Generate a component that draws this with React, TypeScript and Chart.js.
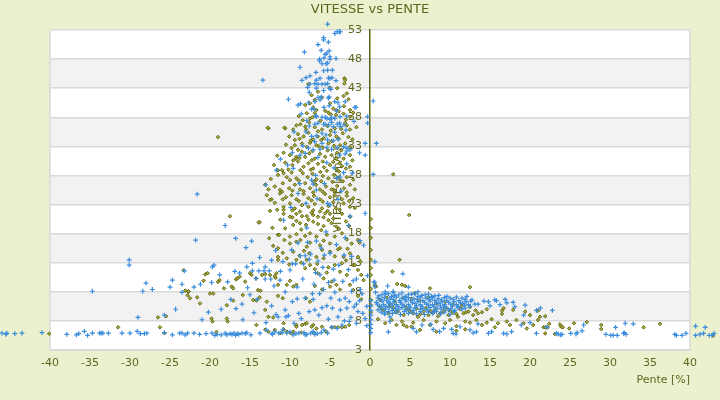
import React, { useEffect, useRef } from "react";
import { Chart, registerables } from "chart.js";
Chart.register(...registerables);

const TITLE = "VITESSE vs PENTE";
const X_TITLE = "Pente [%]";
const Y_TITLE = "VITESSE [km/h]";
const X_MIN = -40;
const X_MAX = 40;
const X_STEP = 5;
const Y_MIN = -2;
const Y_MAX = 53;
const Y_STEP = 5;
// tick labels as printed on the y axis, bottom to top
const yTickLabels = ["3", "8", "8", "13", "18", "23", "28", "33", "38", "43", "48", "53"];

type P = [number, number];

// ---------- blue series ----------
const blueFarLeft: P[] = [[-46, 0.9], [-45.5, 0.7], [-45.4, 0.9], [-44.4, 0.8], [-43.5, 0.9], [-41, 1.0]];
const blueLowRow: P[] = [
  [-37.9, 0.7], [-36.7, 0.6], [-36.4, 0.8], [-35.7, 1.2], [-35.3, 0.5], [-34.7, 0.9], [-33.8, 0.9], [-33.6, 0.9], [-33.4, 0.9], [-32.7, 0.9],
  [-31, 0.9], [-30, 0.9], [-29.1, 1.2], [-28.7, 0.8], [-28.2, 0.8], [-27.9, 0.9], [-25.7, 1.0], [-24.7, 0.6], [-23.8, 0.9], [-23.5, 0.9],
  [-23.1, 0.6], [-22.8, 0.9], [-22, 0.9], [-20.5, 0.8], [-19.75, 0.9], [-19.1, 0.7], [-18.1, 0.9], [-17.9, 0.6], [-17.5, 0.8], [-17.25, 0.7],
  [-17, 0.9], [-16.6, 0.8], [-16.4, 0.7], [-16, 0.9], [-15.6, 0.8], [-15.4, 1.0], [-13.75, 0.9], [-12.9, 1.4], [-12.25, 0.8], [-11.4, 0.9],
  [-11, 1.0], [-10.9, 1.5], [-10.4, 0.9], [-10, 1.1], [-9.25, 0.8], [-8.9, 0.9], [-8.25, 1.0], [-7.9, 0.7], [-7.4, 0.9], [-7.1, 1.2],
  [-6.6, 0.8], [-6.1, 1.0], [-5.75, 1.4], [-4.75, 1.9], [-4.1, 1.7], [-3.5, 2.3], [-2.6, 2.9],
  [-12.2, 0.7], [-9.6, 0.6], [-8.1, 0.6], [-6.9, 0.7], [-5.3, 0.9], [-11.9, 1.1], [-14.9, 0.6], [-16.8, 0.5], [-18.6, 0.6], [-19.4, 0.5],
  [-21.3, 0.7],
];
const blueLeftScatter: P[] = [
  [-34.7, 8.1], [-30.1, 13.5], [-30.1, 12.6], [-29, 3.6], [-28.4, 8.1], [-28, 9.5], [-27.2, 8.4], [-25.7, 4.0], [-25, 8.8], [-24.7, 10],
  [-23.5, 9.3], [-23.5, 7.9], [-23.2, 11.6], [-22, 8.8], [-21.6, 24.8], [-21.8, 16.9], [-21.2, 9.3], [-21, 3.2], [-19.8, 9.6], [-19.7, 12.3],
  [-19.5, 12.6], [-18.8, 10.9], [-18.1, 19.4], [-17.8, 9.7], [-17.4, 6.7], [-16.9, 11.5], [-16.8, 17.2], [-16.75, 5.1], [-16.3, 11.2], [-15.9, 3.2],
  [-15.5, 15.6], [-15.4, 12.3], [-15.3, 8.7], [-15, 7.5], [-14.8, 16.7], [-14.7, 12.9], [-14.7, 11.6], [-14.25, 10.3], [-14.1, 6.7], [-13.9, 11.6],
  [-13.4, 44.4], [-13.25, 11.6], [-13.1, 12.3], [-13.1, 10.2], [-13, 26.4], [-12.6, 11.6], [-12.4, 10.2], [-11.75, 4.1], [-11.7, 28.9], [-11.5, 3.7],
  [-11.25, 10], [-11.2, 30.8], [-11.2, 11.5], [-10.9, 13.2], [-10.8, 20.3], [-10.5, 3.7], [-10.3, 29.8], [-10.2, 41.1], [-10.2, 3.9], [-10, 11.75],
  [-9.7, 12.8], [-9.7, 6.3], [-9.7, 31.9], [-9.6, 29.2], [-9.5, 35.5], [-9.3, 12.8], [-9.1, 8.8], [-9, 16.4], [-9, 24.9], [-8.9, 4.3],
  [-8.75, 31.5], [-8.7, 14.2], [-8.3, 12.8], [-8.1, 6.9], [-8.1, 14.2], [-8.1, 31.8], [-8, 23.2], [-8, 35.5], [-7.8, 16.5], [-7.6, 13.6],
  [-7.4, 14.5], [-7.3, 27.2], [-7.2, 7.7], [-7.1, 6.7], [-7.1, 26.5], [-6.9, 4.9], [-6.7, 16.7], [-6.7, 25.5], [-6.5, 13.3], [-6.3, 7.7],
  [-6.25, 10.9], [-6, 5.3], [-5.8, 8.4], [-5.7, 14.3], [-5.4, 5.6], [-5.4, 30.2], [-5.3, 23.2], [-5.2, 9.6], [-5, 14.6], [-5, 22.9],
  [-4.7, 5.2], [-4.6, 11.9], [-4.5, 10], [-4.4, 7.9], [-4.2, 27.5], [-4, 3.7], [-3.8, 6.6], [-3.75, 27.7], [-3.7, 4.9], [-3.4, 9.8],
  [-3.25, 14.3], [-3.1, 6.9], [-2.9, 5.2], [-2.9, 30], [-2.6, 6.3], [-2.5, 21], [-2.3, 8.1], [-2.1, 9.9], [-2, 5.4], [-1.7, 2.6],
  [-1.7, 5.9], [-1.5, 4.6], [-1.3, 6.5], [-1.3, 31.9], [-1.25, 16.8], [-1.2, 8.4], [-0.8, 16], [-0.6, 3.4], [-0.6, 21.5], [-0.6, 31.5],
  [-0.6, 33.5], [-0.3, 10.8],
  [-11.8, 15.1], [-12.3, 13.4], [-13.8, 13.9], [-12.0, 9.0], [-10.6, 8.0], [-9.1, 6.8], [-8.4, 10.2], [-7.0, 9.3], [-6.8, 11.3], [-5.9, 12.2],
  [-4.9, 6.9], [-3.9, 12.6], [-2.7, 11.8], [-1.7, 10.2], [-1.0, 7.7], [-0.4, 5.5], [-0.9, 4.3], [-0.4, 2.2], [-2.4, 3.6], [-3.2, 3.0],
  [-5.2, 3.3], [-6.4, 4.0], [-7.6, 4.6], [-8.6, 3.4], [-9.5, 2.6], [-10.6, 4.9], [-12.3, 5.6], [-13.0, 2.7], [-14.5, 4.4], [-16.0, 5.9],
  [-18.6, 5.0], [-20.2, 4.5], [-24.3, 5.0],
];
const blueSpikeMid: P[] = [
  [-7.3, 34.7], [-6.7, 34.8], [-6, 35.25], [-5.5, 34.95], [-6.9, 33.8], [-6, 33.5], [-5.3, 34.1], [-4.6, 34], [-4, 34.2], [-7.7, 32.7],
  [-7.1, 32.4], [-6.25, 32.5], [-5.4, 32.8], [-4.8, 32.5], [-4.1, 32.8], [-3.3, 32.9], [-2.9, 32.7], [-2.5, 32.4], [-3.8, 31.5], [-3.1, 31.7],
  [-2.9, 32.2], [-8.6, 38.6], [-7.0, 39.4], [-4.2, 39.1], [-3.1, 40.7], [-7.9, 37.4], [-6.9, 36.8], [-4.4, 35.4], [-3.0, 35.8], [-2.0, 37.3],
  [-8.4, 33.1], [-6.5, 31.1], [-4.5, 29.3], [-3.3, 28.5], [-6.8, 28.0], [-8.8, 26.6], [-5.7, 26.6], [-3.6, 25.3], [-2.2, 28.4], [-9.9, 22.5],
  [-6.6, 24.0], [-4.0, 23.9], [-2.7, 19.4], [-7.9, 19.0], [-5.5, 18.3], [-3.1, 17.3], [-9.8, 15.2], [-6.1, 15.5], [-4.2, 16.1], [-2.3, 14.1],
];
const blueSpikeTop: P[] = [
  [-5.3, 54.0], [-4.4, 52.4], [-4.1, 52.7], [-3.85, 52.7], [-3.7, 52.7], [-5.8, 51.7], [-5.8, 51.3], [-6.5, 50.5], [-5.2, 50.9], [-8.2, 49.2],
  [-6.1, 49.5], [-5.6, 48.8], [-5.4, 49.0], [-5.1, 49.4], [-6.3, 48.0], [-6.3, 47.7], [-5.75, 48.2], [-5, 48.4], [-5, 48.0], [-4.25, 48.1],
  [-6, 47.2], [-5.5, 47.2], [-5.3, 47.3], [-6.75, 45.7], [-5.8, 46], [-5.3, 46.1], [-4.7, 46.1], [-8.75, 46.6], [-8.5, 44.35], [-8, 44.8],
  [-7.5, 45.1], [-6.7, 44.4], [-6.25, 44.7], [-6.9, 43.8], [-6.5, 43.7], [-5.2, 44.75], [-5, 44.7], [-4.75, 44.8], [-6, 43.7], [-5.6, 43.7],
  [-5.3, 43.8], [-4.25, 44.3], [-7.5, 43.7], [-7.8, 43.15], [-5.1, 43], [-4.9, 42.8], [-6.7, 43], [-5.8, 42.6], [-7.6, 42.3], [-9, 40.1],
  [-8.7, 40.3], [-6.5, 41.4], [-5.2, 41.3], [-6.9, 40.7], [-6.25, 41], [-7.7, 40.5], [-4.4, 40.7], [-5.75, 39.7], [-5.1, 40], [-3.8, 39.8],
  [-7.3, 39.4], [-0.3, 38.1], [-1.9, 39.7], [-2.9, 38.2], [-6.7, 38.1], [-6.0, 38.0], [-5.4, 37.8], [-4.8, 38.0], [-6.5, 37.0], [-5.8, 36.8],
  [-5.2, 36.7], [-4.6, 36.4], [-3.8, 37], [-3.25, 36.7], [-7.6, 36.5], [-6.1, 41.5], [-5.1, 41.5], [-4, 40.5], [-1.75, 39.7], [-0.3, 37.0],
  [-6.75, 38.3], [-5.6, 38.0], [-5, 37.65], [-4.4, 37.8], [-3.75, 38.1], [-5.6, 36.8], [-4.8, 37.1], [-4.1, 36.8], [-3.7, 36.4],
];
const blueNearAxis: P[] = [
  [0.4, 40.8], [0.8, 33.5], [0.4, 28.2], [0.6, 13.2], [4.1, 11.1], [0.5, 9.7], [2.2, 9.0], [4.8, 8.8], [0.6, 9.6], [0.6, 8.9],
  [1.9, 8.0], [2.9, 8.0], [0.1, 6.5], [0.1, 5.6], [0.1, 4.8], [0.1, 4.0], [0.1, 3.2], [0.1, 2.4], [0.1, 1.7], [0.1, 1.0],
];
const blueBlob: P[] = [
  [1.5, 7.5], [2.3, 7.7], [3.1, 7.4], [4.0, 7.8], [4.8, 7.5], [5.6, 7.7], [6.5, 7.4], [7.3, 7.6], [8.1, 7.3],
  [1.0, 6.9], [1.8, 7.0], [2.5, 6.8], [3.3, 7.1], [4.0, 6.9], [4.8, 7.0], [5.5, 6.8], [6.3, 7.1], [7.0, 6.9], [7.8, 7.0], [8.5, 6.8], [9.3, 7.0], [10.0, 6.9], [10.8, 7.1], [11.5, 6.9],
  [0.8, 6.2], [1.5, 6.4], [2.3, 6.1], [3.0, 6.3], [3.8, 6.2], [4.5, 6.4], [5.3, 6.1], [6.0, 6.3], [6.8, 6.2], [7.5, 6.4], [8.3, 6.1], [9.0, 6.3], [9.8, 6.2], [10.5, 6.3], [11.3, 6.1], [12.0, 6.3],
  [1.2, 5.6], [2.0, 5.5], [2.8, 5.7], [3.5, 5.5], [4.3, 5.6], [5.0, 5.4], [5.8, 5.6], [6.5, 5.5], [7.3, 5.7], [8.0, 5.5], [8.8, 5.6], [9.5, 5.4], [10.3, 5.6], [11.0, 5.5], [11.8, 5.7], [12.5, 5.5],
  [1.0, 4.9], [1.9, 5.0], [2.8, 4.8], [3.6, 5.0], [4.5, 4.9], [5.4, 4.8], [6.3, 5.0], [7.1, 4.9], [8.0, 4.8], [8.9, 5.0], [9.8, 4.9], [10.6, 4.8], [11.5, 5.0],
  [1.8, 4.2], [2.8, 4.3], [3.8, 4.1], [4.8, 4.3], [5.8, 4.2], [6.8, 4.1], [7.8, 4.3], [8.8, 4.2], [10.0, 4.1],
  [12.75, 6.6], [13.5, 5.9], [14.25, 6.4], [15, 5.6], [15.6, 6.6], [16.25, 5.8], [17.1, 6.1], [18.1, 5.4], [14.8, 6.3], [15.8, 6.5],
  [16.9, 6.7], [17.9, 6.2], [19.4, 5.7], [20.8, 4.8], [12.1, 7.2], [19.2, 4.0],
  [1.1, 7.3], [1.9, 7.6], [2.7, 7.2], [3.6, 7.5], [4.4, 7.2], [5.2, 7.6], [6.0, 7.2], [6.9, 7.5], [7.7, 7.2], [8.6, 7.4], [9.6, 7.2],
  [1.4, 6.6], [2.1, 6.5], [2.9, 6.7], [3.7, 6.5], [4.4, 6.7], [5.1, 6.5], [5.9, 6.7], [6.6, 6.5], [7.4, 6.7], [8.1, 6.5], [8.9, 6.6],
  [9.6, 6.5], [10.4, 6.7], [11.1, 6.5], [11.9, 6.7], [12.6, 6.4], [0.9, 5.9], [1.7, 5.8], [2.5, 6.0], [3.3, 5.8], [4.0, 5.9], [4.8, 5.8],
  [5.6, 6.0], [6.3, 5.8], [7.1, 5.9], [7.8, 5.8], [8.6, 6.0], [9.3, 5.8], [10.1, 5.9], [10.8, 5.8], [11.6, 6.0], [12.3, 5.8], [13.1, 5.9],
  [1.5, 5.2], [2.4, 5.3], [3.2, 5.1], [4.0, 5.3], [4.9, 5.2], [5.7, 5.3], [6.6, 5.1], [7.5, 5.3], [8.4, 5.2], [9.2, 5.3], [10.1, 5.1],
  [11.0, 5.3], [11.9, 5.2], [1.4, 4.5], [2.3, 4.6], [3.3, 4.5], [4.3, 4.6], [5.3, 4.5], [6.3, 4.6], [7.3, 4.5], [8.3, 4.6], [9.3, 4.5],
  [10.5, 4.6], [0.7, 7.9], [2.9, 8.0], [6.0, 8.0],
];
const blueRightLow: P[] = [
  [1.9, 4.3], [2.5, 3.7], [2.5, 2.9], [2.3, 1.1], [5.4, 1.7], [5.8, 1.1], [6.5, 2.3], [7.6, 2.4], [7.9, 1.55], [8.7, 1.15],
  [9.2, 1.7], [10.2, 1.55], [10.4, 0.85], [10.75, 0.75], [11.25, 2.0], [12.5, 1.45], [13.5, 2.5], [12.9, 0.95], [13.3, 1.1], [14.8, 0.85],
  [15.2, 1.15], [16.7, 0.85], [17.1, 0.75], [17.7, 1.15], [18.9, 2.3], [20, 2.7], [20.8, 0.85],
];
const blueFarRight: P[] = [
  [21.3, 5.2], [22.8, 4.8], [22.1, 1.9], [23.3, 0.85], [23.5, 0.75], [23.8, 0.6], [24, 0.7], [25.1, 0.85], [25.75, 0.75], [25.9, 1.0],
  [26.5, 1.3], [26.7, 2.3], [29.5, 0.7], [30.1, 0.5], [30.4, 0.5], [30.9, 0.5], [30.7, 1.9], [31.7, 0.85], [31.8, 0.95], [32, 0.7],
  [31.9, 2.6], [32.9, 2.5], [38.1, 0.7], [38.3, 0.5], [39, 0.5], [39.5, 0.85], [40.7, 2.1], [40.7, 0.5], [41.25, 0.7], [41.7, 0.85],
  [41.9, 1.9], [42.4, 0.5], [42.75, 0.5], [43, 0.85],
];

// ---------- olive series ----------
const oliveSpikeTop: P[] = [
  [-7.3, 41.8], [-6.9, 41.0], [-6.5, 42.4], [-4.1, 41.25], [-3.3, 41.65], [-2.9, 42.1], [-2.7, 41.1], [-3.2, 44.7], [-3.1, 44.4], [-3.2, 43.8],
  [-4.1, 43.0], [-7.7, 43.7], [-5, 43.1], [-6, 41.4], [-8.1, 40.1], [-7.5, 40.4], [-7.1, 39.7], [-6.7, 39.25], [-5, 40.4], [-4.6, 39.5],
  [-4.2, 39.25], [-3.25, 39.9], [-2.5, 39.25], [-12.7, 36.1], [-7.9, 38.7], [-7.5, 37.8], [-6.9, 38.7], [-5.2, 38.8], [-4.25, 38.4], [-3.3, 38.6],
  [-2.5, 38.1], [-2.1, 38.8], [-10.6, 36.1], [-9.6, 35.9], [-8.7, 36.8], [-8.1, 36.4], [-7.6, 37.1], [-6.9, 36.3], [-6, 35.9], [-5.3, 36.5],
  [-4.4, 36.1], [-3.1, 37.0], [-2.5, 35.9], [-1.7, 36.3], [-12.8, 36.2], [-19, 34.6], [-10.7, 36.2],
  [-8.9, 38.2], [-8.4, 37.5], [-7.2, 38.0], [-6.2, 37.4], [-5.6, 39.1], [-4.9, 38.5], [-3.9, 39.0], [-3.0, 37.6], [-9.2, 36.6], [-8.0, 35.9],
  [-6.5, 35.6], [-4.9, 35.7], [-3.6, 36.0], [-2.9, 36.6],
];
const oliveSpikeMid: P[] = [
  [-9, 35.1], [-8.3, 34.7], [-7.7, 35.35], [-7.1, 34.2], [-6.5, 34.7], [-5.8, 34.4], [-5, 34.95], [-4.2, 34.7], [-3.4, 35.25], [-2.7, 34.6],
  [-9.4, 34.1], [-9.4, 33.2], [-8.5, 33.5], [-7.9, 32.9], [-7.5, 33.6], [-6.7, 33.2], [-5.9, 32.8], [-5.2, 33.5], [-4.5, 33.1], [-3.75, 33.2],
  [-3.1, 33.5], [-2.5, 32.9], [-9.8, 32.7], [-10.8, 31.9], [-10, 31.5], [-9.2, 31.2], [-8.5, 32.1], [-8.1, 31.2], [-7.6, 31.8], [-6.9, 30.9],
  [-6.25, 31.7], [-5.6, 31.2], [-4.8, 31.5], [-4.2, 30.9], [-3.3, 30.9], [-2.5, 31.5], [-9.25, 30.9], [-10.6, 30.2], [-9.7, 29.8], [-9, 30.4],
  [-8.3, 29.5], [-7.7, 30.1], [-7.1, 29.2], [-6.5, 30], [-5.75, 29.4], [-5, 29.8], [-4.2, 29.1], [-3.5, 29.6], [-2.5, 29.5], [-11, 28.9],
  [-11.5, 28.1], [-10.4, 27.7], [-9.8, 28.5], [-9.2, 27.5], [-8.4, 28.4], [-7.8, 27.7], [-7.2, 28.3], [-6.7, 27.3], [-5.9, 27.9], [-5.2, 27.5],
  [-4.5, 28.1], [-3.8, 27.3], [-2.9, 27.7], [-10, 27.2], [-11.9, 26.1], [-10.9, 26.65], [-10.1, 25.8], [-9.4, 26.4], [-8.75, 25.6], [-8.1, 26.65],
  [-7.5, 25.8], [-6.75, 26.4], [-6.25, 25.6], [-5.5, 26.1], [-4.8, 25.6], [-4.1, 26.2], [-3.25, 25.8], [-2.5, 26.4], [-11.25, 25.5], [-12.3, 23.9],
  [-11.25, 24.9], [-10.5, 24.25], [-9.8, 24.6], [-9.2, 23.9], [-8.3, 24.8], [-7.7, 24.1], [-7, 24.5], [-6.25, 23.9], [-5.6, 24.8], [-5, 24.25],
  [-4.4, 24.6], [-3.5, 23.9], [-2.9, 24.5], [-2.1, 24.1], [-11.9, 23.3], [-10.8, 22.6], [-10, 23.2], [-9.4, 22.35], [-8.5, 22.9], [-7.7, 22.6],
  [-6.9, 23.1], [-6, 22.35], [-5.2, 22.75], [-4.25, 22.35], [-3.3, 23.2], [-2.5, 22.6], [-11.5, 28.9], [-13.1, 26.4], [-12.5, 23.8],
  [-10.1, 34.7], [-8.8, 34.3], [-7.4, 34.0], [-6.1, 34.1], [-4.8, 33.9], [-3.9, 34.3], [-2.2, 34.2], [-10.5, 33.3], [-9.0, 32.4], [-7.2, 32.2],
  [-6.4, 33.0], [-5.3, 32.3], [-4.1, 31.9], [-3.6, 32.3], [-11.6, 31.4], [-9.6, 30.6], [-8.8, 31.0], [-7.3, 30.6], [-5.9, 30.4], [-4.6, 30.3],
  [-3.8, 30.1], [-2.2, 30.6], [-12.0, 29.8], [-10.2, 29.0], [-8.7, 28.9], [-7.4, 29.0], [-6.2, 28.6], [-5.4, 28.8], [-3.9, 28.7], [-3.0, 29.2],
  [-12.4, 27.4], [-10.8, 28.4], [-8.9, 27.1], [-7.0, 26.9], [-6.1, 27.0], [-4.7, 26.9], [-3.4, 27.0], [-2.1, 27.3], [-12.7, 25.6], [-11.0, 25.2],
  [-9.7, 25.4], [-8.3, 25.3], [-7.1, 25.1], [-5.9, 25.2], [-4.4, 25.4], [-2.9, 25.1], [-1.9, 25.6], [-12.9, 24.6], [-10.9, 23.9], [-8.9, 23.6],
  [-7.3, 23.7], [-5.9, 23.5], [-4.6, 23.4], [-2.6, 23.6], [-11.6, 22.1], [-9.7, 22.0], [-7.1, 22.0], [-5.3, 21.9], [-3.8, 22.1], [-1.9, 22.4],
];
const oliveSpikeLow: P[] = [
  [-10.8, 21.4], [-9.7, 20.8], [-8.75, 21.8], [-7.9, 21], [-7.3, 21.6], [-6.5, 20.9], [-5.6, 21.5], [-4.6, 20.6], [-3.5, 21.4], [-2.5, 20.9],
  [-13.9, 19.9], [-12.5, 21.9], [-10.8, 22.1], [-10, 20.9], [-9.2, 21.4], [-8.5, 21], [-7.1, 21.2], [-6.25, 21.8], [-5.8, 20.8], [-5, 21.4],
  [-9.6, 19.5], [-8.75, 19.8], [-8, 19.5], [-7.1, 20.05], [-6.5, 19.65], [-5.8, 19.3], [-4.8, 19.8], [-4.2, 19.2], [-11.5, 17.8], [-10, 17.5],
  [-9.2, 17.9], [-8.1, 17.6], [-7.5, 18.05], [-6.7, 17.5], [-5.4, 17.8], [-4.4, 17.5], [-3.5, 18.05], [-11.5, 15.5], [-10, 16.3], [-9.2, 16.6],
  [-7.9, 15.75], [-7.5, 16.45], [-6.25, 16], [-5, 16.3], [-3.75, 15.5], [-2.3, 16.3], [-1.5, 16.9], [-1.3, 16.45], [-9.6, 14.9], [-8.25, 15.05],
  [-7.6, 14.6], [-6.7, 14], [-5, 14.9], [-4, 15.3], [-3.3, 14], [-2.5, 14.6], [-10.4, 13.75], [-9.2, 13.5], [-7.9, 13.5], [-5.8, 13.75],
  [-4.4, 12.6], [-3.5, 12.9], [-2.1, 12.6], [-1.5, 14], [-13.8, 20], [-17.5, 21.0], [-11.35, 17.8], [-11.5, 14.0], [-11.8, 10.4],
  [-11.2, 20.4], [-9.2, 20.2], [-7.7, 20.4], [-5.2, 20.3], [-3.0, 20.1], [-12.2, 19.0], [-10.6, 18.9], [-8.6, 18.7], [-6.1, 18.6], [-3.9, 18.8],
  [-2.6, 19.3], [-12.6, 17.2], [-10.7, 16.9], [-8.7, 16.9], [-5.8, 16.8], [-2.9, 17.0], [-12.1, 15.9], [-10.9, 14.7], [-8.8, 14.2], [-6.0, 15.2],
  [-4.4, 14.1], [-2.8, 15.4], [-10.1, 12.7], [-8.6, 13.0], [-6.6, 12.8], [-5.2, 12.2], [-3.0, 13.4], [-1.2, 13.2],
];
const oliveLeft: P[] = [
  [-20.6, 11.0], [-20.3, 11.2], [-20.8, 9.9], [-23.1, 8.2], [-22.7, 8.0], [-22.5, 6.9], [-21.6, 7.05], [-21.25, 6.0], [-20, 7.7], [-19.6, 7.7],
  [-18.8, 10], [-19, 9.7], [-18.25, 8.6], [-17.9, 5.7], [-17.3, 8.9], [-17.1, 8.6], [-16.75, 10.15], [-16.6, 10.3], [-16.3, 10.6], [-17.1, 6.5],
  [-15.9, 7.45], [-15.6, 9.75], [-15, 11.2], [-14.8, 10.9], [-14.25, 10.3], [-14, 8.3], [-13.7, 8.2], [-14.6, 6.6], [-14.2, 6.5], [-13.1, 4.9],
  [-13.8, 7.05], [-13.5, 10.9], [-13.1, 11.05], [-12.5, 10.9], [-11.9, 10.7], [-11.7, 11.2], [-11.5, 13.5], [-11.5, 9.2], [-10.4, 9.2], [-10, 9.9],
  [-11.5, 7.3], [-10.9, 6.9], [-9.6, 8.9], [-9.2, 9.2], [-8.1, 12.05], [-7.5, 12.6], [-6.9, 11.9], [-6.5, 11.2], [-5.8, 10.3], [-5.4, 11.3],
  [-4.8, 9.75], [-4.2, 9.2], [-3.75, 8.4], [-3.75, 11.45], [-2.9, 10.9], [-1.9, 12.6], [-1.5, 11.75], [-1.1, 10.9], [-0.8, 10], [-2.5, 9.2],
  [-2.1, 8.3], [-1.5, 7.3], [-1.1, 6.7], [-6.9, 9.0], [-6.0, 8.4], [-5, 8.9], [-8, 6.9], [-7.5, 6.3], [-12.9, 6.3], [-12.7, 3.7],
  [-12.1, 3.6], [-10.8, 2.6], [-9.2, 2.3], [-8.1, 2.5], [-7.1, 2.3], [-6, 2.0], [-19.8, 3.4], [-19.7, 2.9], [-17.9, 3.4], [-17.8, 2.9],
  [-26.5, 3.6], [-26.25, 1.9], [-25.5, 3.8], [-19.2, 1.1], [-14.2, 2.3], [-12.7, 1.15], [-11.9, 1.45], [-10.8, 1.55], [-10.4, 1.15], [-9.6, 1.15],
  [-9.2, 2.0], [-8.5, 2.3], [-7.9, 2.6], [-7.3, 2.0], [-6.7, 1.7], [-4.8, 1.9], [-4.4, 1.9], [-4, 1.9], [-3.5, 1.9], [-3.1, 2.0],
  [-2.6, 2.3], [-31.5, 1.9], [-25.7, 0.9], [-22.7, 8.1], [-22.8, 7.4], [-23.3, 11.7], [-40.1, 0.8], [-13.1, 1.5], [-11.2, 0.9], [-9.9, 0.9],
  [-8.6, 1.0], [-7.0, 0.9], [-5.5, 1.2],
];
const oliveAxis: P[] = [
  [0.1, 20.5], [0.1, 19.0], [0.1, 17.3], [0.1, 15.2], [0.1, 13.5], [0.1, 12.1], [0.1, 10.9], [0.1, 8.5], [0.1, 6.6], [0.1, 5.7], [0.1, 4.5],
];
const oliveRightOut: P[] = [
  [2.9, 28.2], [4.9, 21.2], [3.7, 13.5], [2.8, 11.5], [4.0, 9.2], [0.6, 9.2], [0.75, 8.9], [3.4, 9.35], [4.4, 9.0], [7.5, 8.6],
  [5.6, 7.75], [12.5, 8.8],
];
const oliveBlob: P[] = [
  [1.25, 5.45], [1.7, 4.9], [2.3, 4.3], [2.9, 5.2], [3.5, 4.6], [4.2, 4.0], [4.8, 4.9], [5.4, 4.3], [6, 3.7], [6.7, 4.6],
  [7.3, 4.0], [7.9, 4.4], [8.5, 3.8], [9.2, 4.6], [9.8, 4.0], [10.4, 4.4], [11, 3.7], [11.7, 4.3], [12.3, 4.6], [12.9, 4.0],
  [13.5, 4.3], [1.25, 6.6], [2.1, 7.0], [3.1, 6.3], [4.2, 6.9], [5.2, 6.8], [6.25, 6.5], [7.3, 7.0], [8.3, 6.0], [9.4, 6.3],
  [10.4, 5.8], [11.5, 5.6], [12.5, 5.4], [1.5, 5.0], [2.5, 5.6], [3.2, 4.5], [4.5, 5.3], [5.0, 4.6], [5.8, 5.1], [6.3, 4.2],
  [7.0, 5.2], [7.6, 4.7], [8.2, 5.0], [8.8, 4.3], [9.5, 5.1], [10.1, 4.7], [10.8, 4.2], [11.3, 5.0], [12.0, 4.5], [13.2, 4.8],
  [14.0, 4.5], [14.6, 5.0], [16.7, 5.2], [16.5, 4.75], [17.9, 4.9], [19.4, 4.6], [20, 4.0], [21, 4.75],
];
const oliveTrail: P[] = [
  [1.0, 3.3], [1.9, 2.6], [2.7, 3.15], [3.3, 2.3], [4, 2.9], [4.6, 2.0], [5.4, 2.7], [6.7, 3.15], [7.5, 2.3], [8.3, 2.9],
  [9.4, 2.6], [10, 3.15], [10.8, 2.1], [11.9, 2.9], [12.5, 2.7], [13.3, 3.15], [14, 2.3], [14.6, 2.7], [15.2, 3.3], [15.6, 1.9],
  [16, 2.6], [16.5, 4.2], [17.1, 2.9], [17.5, 2.3], [18.3, 3.15], [19.2, 2.6], [19.6, 1.7], [20.4, 2.3], [21, 3.15], [21.25, 3.7],
  [4.2, 2.3], [5.2, 2.0], [6.25, 1.45], [8.3, 1.15], [10.8, 1.3], [11.9, 1.55],
];
const oliveFarRight: P[] = [
  [21.9, 3.8], [21.7, 1.9], [21.9, 1.9], [22.2, 1.9], [22.4, 2.5], [21.9, 0.85], [23.1, 0.75], [23.75, 2.4], [23.9, 2.0], [24.1, 1.9],
  [24.9, 1.7], [25.5, 2.6], [27.1, 2.8], [28.9, 2.3], [28.9, 1.6], [34.2, 1.9], [36.25, 2.5], [42.9, 0.5],
];

const blueSeries: P[] = [
  ...blueFarLeft, ...blueLowRow, ...blueLeftScatter, ...blueSpikeMid, ...blueSpikeTop,
  ...blueNearAxis, ...blueBlob, ...blueRightLow, ...blueFarRight,
];
const oliveSeries: P[] = [
  ...oliveSpikeTop, ...oliveSpikeMid, ...oliveSpikeLow, ...oliveLeft, ...oliveAxis,
  ...oliveRightOut, ...oliveBlob, ...oliveTrail, ...oliveFarRight,
];

const BG = "#EBF1CF";
const TEXT = "#60661E";
const AXIS = "#5A5F12";
const GRID = "#D9D9D9";
const BAND = "#F2F2F2";
const FONT = "'DejaVu Sans', sans-serif";

const backgroundPlugin = {
  id: "plotBackground",
  beforeDraw(chart: any) {
    const { ctx, chartArea: a, scales } = chart;
    ctx.save();
    ctx.fillStyle = BG;
    ctx.fillRect(0, 0, chart.width, chart.height);
    ctx.fillStyle = "#FFFFFF";
    ctx.fillRect(a.left, a.top, a.right - a.left, a.bottom - a.top);
    const y = scales.y;
    ctx.fillStyle = BAND;
    y.ticks.forEach((t: any, i: number) => {
      if (i % 2 === 1 && i < y.ticks.length - 1) {
        const y0 = y.getPixelForValue(t.value);
        const y1 = y.getPixelForValue(y.ticks[i + 1].value);
        ctx.fillRect(a.left, y1, a.right - a.left, y0 - y1);
      }
    });
    ctx.strokeStyle = GRID;
    ctx.lineWidth = 1.5;
    ctx.beginPath();
    ctx.moveTo(a.left, a.top);
    ctx.lineTo(a.left, a.bottom);
    ctx.moveTo(a.right, a.top);
    ctx.lineTo(a.right, a.bottom);
    ctx.stroke();
    ctx.restore();
  },
  beforeDatasetsDraw(chart: any) {
    const { ctx, chartArea: a, scales } = chart;
    const x0 = scales.x.getPixelForValue(0);
    ctx.save();
    ctx.translate(x0 - 32, (a.top + a.bottom) / 2);
    ctx.rotate(-Math.PI / 2);
    ctx.fillStyle = TEXT;
    ctx.font = `11px ${FONT}`;
    ctx.textAlign = "center";
    ctx.textBaseline = "middle";
    ctx.fillText(Y_TITLE, 0, 0);
    ctx.restore();
    // let markers that lie outside the plot frame be drawn as well
    chart.$savedArea = chart.chartArea;
    chart.chartArea = { left: 0, top: 0, right: chart.width, bottom: chart.height, width: chart.width, height: chart.height };
  },
  afterDatasetsDraw(chart: any) {
    if (chart.$savedArea) {
      chart.chartArea = chart.$savedArea;
      chart.$savedArea = null;
    }
  },
};

export default function App() {
  const ref = useRef<HTMLCanvasElement | null>(null);
  useEffect(() => {
    document.body.style.margin = "0";
    if (!ref.current) return;
    Chart.defaults.font.family = FONT;
    const chart = new Chart(ref.current, {
      type: "scatter",
      data: {
        datasets: [
          {
            label: "blue",
            data: blueSeries.map(([x, y]) => ({ x, y })),
            pointStyle: "cross",
            pointRadius: 2.4,
            pointHoverRadius: 2.4,
            borderWidth: 1.2,
            borderColor: "#3A8CDD",
            backgroundColor: "#3A8CDD",
            clip: false as any,
          },
          {
            label: "olive",
            data: oliveSeries.map(([x, y]) => ({ x, y })),
            pointStyle: "rectRot",
            pointRadius: 1.8,
            pointHoverRadius: 1.8,
            borderWidth: 0.9,
            borderColor: "#5A5E0E",
            backgroundColor: "#A9AC36",
            clip: false as any,
          },
        ],
      },
      options: {
        animation: false,
        responsive: true,
        maintainAspectRatio: false,
        events: [],
        layout: { padding: { left: 50, right: 30, top: 0, bottom: 0 } },
        plugins: {
          legend: { display: false },
          tooltip: { enabled: false },
          title: {
            display: true,
            text: TITLE,
            color: TEXT,
            font: { size: 13, weight: "normal", family: FONT },
            padding: { top: 2, bottom: 12.4 },
          },
        },
        scales: {
          x: {
            type: "linear",
            position: "bottom",
            min: X_MIN,
            max: X_MAX,
            ticks: { stepSize: X_STEP, color: TEXT, font: { size: 11 }, padding: 7, autoSkip: false, maxRotation: 0 },
            grid: { display: false, drawTicks: false },
            border: { display: true, color: GRID, width: 1.5 },
            title: { display: true, text: X_TITLE, align: "end", color: TEXT, font: { size: 11 }, padding: { top: 0, bottom: 13.4 } },
            afterFit: (s: any) => { s.height = 50; },
          },
          y: {
            type: "linear",
            position: { x: 0 } as any,
            min: Y_MIN,
            max: Y_MAX,
            ticks: { stepSize: Y_STEP, display: false },
            grid: { color: GRID, lineWidth: 1.5, drawTicks: false },
            border: { display: true, color: AXIS, width: 1.5 },
          },
          y2: {
            type: "linear",
            axis: "y",
            position: { x: -1 } as any,
            min: Y_MIN,
            max: Y_MAX,
            ticks: {
              stepSize: Y_STEP,
              color: TEXT,
              font: { size: 11 },
              autoSkip: false,
              callback: (_v: any, i: number) => yTickLabels[i],
            },
            grid: { display: false, drawTicks: false },
            border: { display: false },
          },
        } as any,
      },
      plugins: [backgroundPlugin],
    });
    return () => chart.destroy();
  }, []);
  return (
    <div style={{ width: 720, height: 400, position: "relative", background: BG }}>
      <canvas ref={ref} />
    </div>
  );
}
